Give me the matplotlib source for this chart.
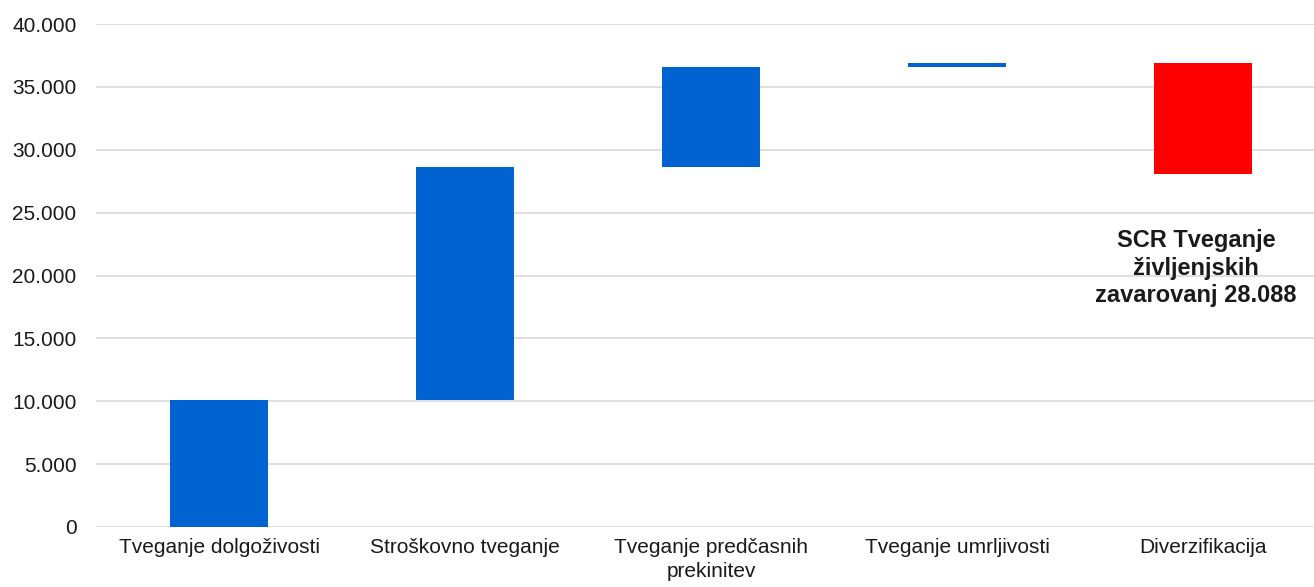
import matplotlib
matplotlib.use("Agg")
import matplotlib.pyplot as plt
from matplotlib.ticker import FuncFormatter

plt.rcParams["font.family"] = ["Liberation Sans", "DejaVu Sans"]

# Waterfall data: contributions of sub-risks to the life underwriting SCR
categories = [
    "Tveganje dolgoživosti",
    "Stroškovno tveganje",
    "Tveganje predčasnih\nprekinitev",
    "Tveganje umrljivosti",
    "Diverzifikacija",
]
changes = [10100, 18500, 8000, 300, -8812]
total_label = "SCR Tveganje\nživljenjskih\nzavarovanj 28.088"

BLUE = "#0063D1"
RED = "#FF0000"
GRID = "#D9D9D9"

# running bases for the floating bars
bottoms = []
running = 0
for change in changes:
    bottoms.append(running if change >= 0 else running + change)
    running += change
heights = [abs(c) for c in changes]
colors = [BLUE if c >= 0 else RED for c in changes]

fig = plt.figure(figsize=(13.14, 5.87), dpi=100)
ax = fig.add_axes([96 / 1314, 1 - 527 / 587, (1314 - 96) / 1314, (527 - 24) / 587])

x = list(range(len(categories)))
ax.bar(x, heights, bottom=bottoms, width=0.40, color=colors, zorder=3)

ax.set_ylim(0, 40000)
ax.set_xlim(-0.5, 4.45)
ax.set_yticks(range(0, 40001, 5000))
ax.yaxis.set_major_formatter(
    FuncFormatter(lambda v, _: f"{int(v):,}".replace(",", "."))
)
ax.set_xticks(x)
ax.set_xticklabels(categories, fontsize=15, color="#1a1a1a", linespacing=1.3)

ax.grid(axis="y", color=GRID, linewidth=1.2, zorder=0)
ax.tick_params(axis="y", length=0, labelsize=15, labelcolor="#1a1a1a", pad=14)
ax.tick_params(axis="x", length=0, pad=8)
for side in ["top", "right", "left", "bottom"]:
    ax.spines[side].set_visible(False)

ax.text(3.97, running - 7500, total_label, ha="center", va="center",
        fontsize=17, fontweight="bold", color="#1a1a1a", linespacing=1.25)

fig.savefig("out.png", dpi=100)
